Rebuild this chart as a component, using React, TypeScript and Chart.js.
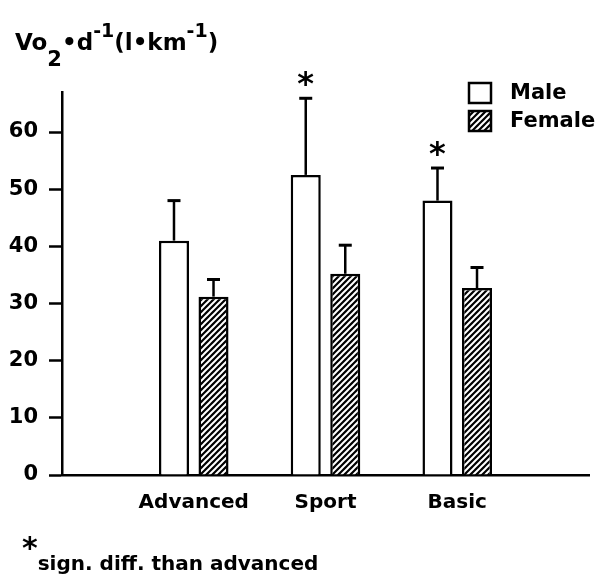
import React, { useEffect, useRef } from "react";
import { Chart, registerables } from "chart.js";

Chart.register(...registerables);

const categories = ["Advanced", "Sport", "Basic"];
const maleValues = [41, 52.5, 48];
const maleErrors = [7, 13.4, 5.7];
const femaleValues = [31.2, 35.2, 32.7];
const femaleErrors = [3, 5, 3.6];
const significance = ["", "*", "*"];
const seriesNames = ["Male", "Female"];
const yMin = 0;
const yMax = 67;
const yStep = 10;

const FONT = "'DejaVu Sans', sans-serif";

function makeHatch(): CanvasPattern | string {
  const c = document.createElement("canvas");
  const s = 6;
  c.width = s;
  c.height = s;
  const g = c.getContext("2d");
  if (!g) return "#000";
  g.fillStyle = "#000";
  g.fillRect(0, 0, s, s);
  g.strokeStyle = "#fff";
  g.lineWidth = 2;
  g.beginPath();
  g.moveTo(-1, s + 1);
  g.lineTo(s + 1, -1);
  g.moveTo(-1, 1);
  g.lineTo(1, -1);
  g.moveTo(s - 1, s + 1);
  g.lineTo(s + 1, s - 1);
  g.stroke();
  const p = g.createPattern(c, "repeat");
  return p || "#000";
}

const pad = (arr: any[]) => [null, ...arr, null];

export default function App() {
  const ref = useRef<HTMLCanvasElement>(null);

  useEffect(() => {
    if (!ref.current) return;
    const hatch = makeHatch();

    const errorBars = {
      id: "errorBars",
      afterDatasetsDraw(chart: any) {
        const ctx = chart.ctx;
        const yScale = chart.scales.y;
        ctx.save();
        ctx.strokeStyle = "#000";
        chart.data.datasets.forEach((ds: any, di: number) => {
          const meta = chart.getDatasetMeta(di);
          meta.data.forEach((el: any, i: number) => {
            const v = ds.data[i];
            const e = ds.errors[i];
            if (v == null || e == null) return;
            const yTop = yScale.getPixelForValue(v + e);
            ctx.lineWidth = 2.5;
            ctx.beginPath();
            ctx.moveTo(el.x, el.y);
            ctx.lineTo(el.x, yTop);
            ctx.stroke();
            ctx.lineWidth = 3;
            ctx.beginPath();
            ctx.moveTo(el.x - 6.5, yTop);
            ctx.lineTo(el.x + 6.5, yTop);
            ctx.stroke();
            const mark = ds.marks ? ds.marks[i] : "";
            if (mark) {
              ctx.fillStyle = "#000";
              ctx.font = `bold 32px ${FONT}`;
              ctx.textAlign = "center";
              ctx.textBaseline = "alphabetic";
              ctx.fillText(mark, el.x, yTop - 4.5);
            }
          });
        });
        ctx.restore();
      },
    };

    const legendPlugin = {
      id: "customLegend",
      afterDraw(chart: any) {
        const ctx = chart.ctx;
        ctx.save();
        const bx = 469;
        const rows = [83, 111];
        chart.data.datasets.forEach((ds: any, di: number) => {
          const y = rows[di];
          ctx.fillStyle = ds.backgroundColor;
          ctx.fillRect(bx, y, 22, 20);
          ctx.strokeStyle = "#000";
          ctx.lineWidth = 2.5;
          ctx.strokeRect(bx, y, 22, 20);
          ctx.fillStyle = "#000";
          ctx.font = `bold 21px ${FONT}`;
          ctx.textAlign = "left";
          ctx.textBaseline = "alphabetic";
          ctx.fillText(ds.label, 510, y + 16);
        });
        ctx.restore();
      },
    };

    const chart = new Chart(ref.current, {
      type: "bar",
      data: {
        labels: ["", ...categories, ""],
        datasets: [
          {
            label: seriesNames[0],
            data: pad(maleValues),
            errors: pad(maleErrors),
            marks: pad(significance),
            backgroundColor: "#fff",
            borderColor: "#000",
            borderWidth: 2.5,
            barPercentage: 0.76,
            categoryPercentage: 0.6,
          } as any,
          {
            label: seriesNames[1],
            data: pad(femaleValues),
            errors: pad(femaleErrors),
            backgroundColor: hatch,
            borderColor: "#000",
            borderWidth: 2.5,
            barPercentage: 0.76,
            categoryPercentage: 0.6,
          } as any,
        ],
      },
      options: {
        animation: false,
        responsive: false,
        maintainAspectRatio: false,
        layout: { padding: { left: 0, right: 2, top: 92, bottom: 0 } },
        plugins: {
          legend: { display: false },
          tooltip: { enabled: false },
          title: { display: false },
        },
        scales: {
          x: {
            offset: false,
            grid: { display: false },
            border: { display: true, color: "#000", width: 2.5 },
            ticks: {
              color: "#000",
              font: { family: FONT, size: 20, weight: "bold" },
              padding: 8,
              maxRotation: 0,
              autoSkip: false,
            },
            afterFit(s: any) {
              s.height = 100;
            },
          },
          y: {
            min: yMin,
            max: yMax,
            grid: {
              drawOnChartArea: false,
              drawTicks: true,
              tickLength: 13,
              tickColor: "#000",
              tickWidth: 2.5,
            },
            border: { display: true, color: "#000", width: 2.5 },
            ticks: {
              stepSize: yStep,
              includeBounds: false,
              color: "#000",
              font: { family: FONT, size: 21, weight: "bold" },
              padding: 11,
            },
            afterFit(s: any) {
              s.width = 62;
            },
          },
        },
      },
      plugins: [errorBars, legendPlugin],
    });
    return () => chart.destroy();
  }, []);

  const sup: React.CSSProperties = { position: "relative", fontSize: 19, top: -13, lineHeight: 0 };
  const sub: React.CSSProperties = { position: "relative", fontSize: 21, top: 16, lineHeight: 0 };

  return (
    <div style={{ position: "absolute", left: 0, top: 0, width: 597, height: 575, background: "#fff", overflow: "hidden" }}>
      <canvas ref={ref} width={597} height={575} style={{ position: "absolute", left: 0, top: 0 }} />
      <div
        style={{
          position: "absolute",
          left: 15,
          top: 30,
          fontFamily: FONT,
          fontWeight: "bold",
          fontSize: 23,
          lineHeight: "24px",
          whiteSpace: "nowrap",
          color: "#000",
        }}
      >
        Vo<span style={sub}>2</span>•d<span style={sup}>-1</span>(l•km<span style={sup}>-1</span>)
      </div>
      <div
        style={{
          position: "absolute",
          left: 22,
          top: 553,
          fontFamily: FONT,
          fontWeight: "bold",
          fontSize: 20,
          lineHeight: "20px",
          whiteSpace: "nowrap",
          color: "#000",
        }}
      >
        <span style={{ position: "relative", top: -12, fontSize: 30, lineHeight: 0 }}>*</span>sign. diff. than advanced
      </div>
    </div>
  );
}
